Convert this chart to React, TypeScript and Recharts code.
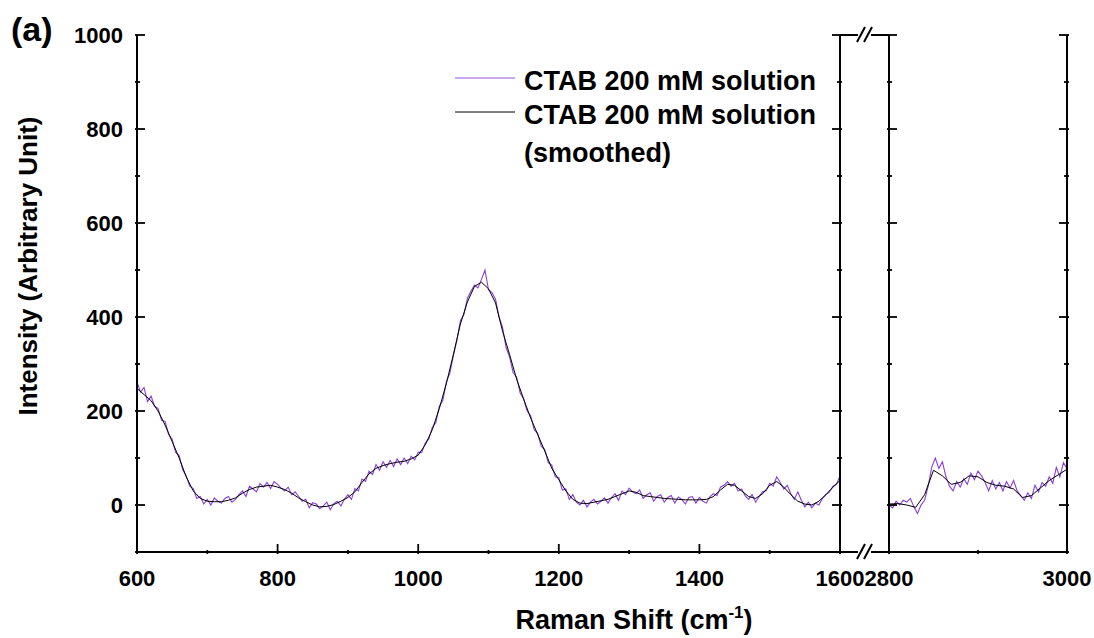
import React from "react";
import { LineChart, Line, XAxis, YAxis } from "recharts";

// Raman spectrum of CTAB 200 mM solution, broken x axis (600-1600 | 2800-3000)
const LEFT_START = 600;
const RAW_STEP_LEFT = 5;
const rawLeft = [
  262, 240, 250, 220, 232, 210, 205, 180, 178, 150, 140, 112, 105, 75, 62, 40, 35, 14, 18, 2,
  12, 0, 15, 8, 4, 14, 18, 6, 12, 22, 30, 18, 40, 34, 28, 46, 38, 48, 35, 50,
  44, 36, 30, 38, 22, 28, 18, 8, 12, -6, 5, 2, -8, -2, 6, -10, 3, 8, -2, 12,
  22, 12, 35, 30, 55, 50, 72, 65, 86, 74, 92, 80, 95, 82, 98, 86, 100, 88, 104, 96,
  112, 112, 132, 140, 165, 175, 210, 222, 262, 280, 318, 350, 392, 405, 440, 455, 468, 462, 480, 500,
  458, 452, 438, 400, 378, 335, 315, 282, 272, 238, 226, 200, 190, 160, 152, 125, 118, 90, 85, 60,
  58, 32, 34, 12, 22, 6, 0, 10, -4, 6, 12, 2, 8, 15, 4, 16, 24, 10, 30, 22,
  36, 28, 24, 32, 14, 22, 26, 8, 18, 22, 6, 16, 20, 4, 17, 12, 2, 16, 18, 4,
  16, 8, 4, 18, 24, 20, 38, 42, 50, 40, 46, 30, 34, 20, 12, 22, 6, 18, 28, 30,
  46, 40, 60, 48, 34, 42, 24, 12, 28, 10, -4, 6, -6, 4, 0, 14, 22, 28, 40, 44,
  62,
];
const SMOOTH_STEP = 10;
const smoothLeft = [
  248, 235, 222, 200, 170, 135, 100, 60, 30, 14,
  8, 7, 7, 10, 15, 25, 33, 38, 40, 42,
  38, 33, 25, 15, 7, 0, -4, -3, 1, 8,
  16, 28, 48, 66, 78, 84, 88, 91, 93, 98,
  106, 128, 160, 205, 258, 320, 385, 432, 465, 474,
  460, 430, 370, 320, 268, 225, 185, 150, 115, 78,
  54, 30, 12, 4, 3, 6, 9, 12, 18, 24,
  30, 27, 20, 18, 16, 14, 13, 12, 11, 11,
  11, 12, 18, 32, 44, 42, 30, 18, 14, 24,
  42, 50, 38, 22, 8, 2, 0, 8, 22, 38,
  52,
];

const RIGHT_START = 2800;
const RAW_STEP_RIGHT = 4;
const rawRight = [
  0, -6, 8, 0, 10, 6, 14, -4, -18, 0,
  10, 40, 80, 100, 78, 92, 60, 40, 30, 50,
  38, 56, 44, 68, 54, 72, 62, 48, 30, 52,
  34, 48, 30, 50, 36, 52, 30, 20, 10, 26,
  14, 42, 28, 48, 40, 60, 46, 80, 60, 90,
  78,
];
const smoothRight = [2, 3, 0, -5, 22, 74, 62, 44, 48, 62, 60, 48, 42, 40, 34, 16, 20, 36, 52, 64, 76];

const yTicks = [-100, 0, 100, 200, 300, 400, 500, 600, 700, 800, 900, 1000];
const yLabels = [0, 200, 400, 600, 800, 1000];
const xTicksLeft = [600, 700, 800, 900, 1000, 1100, 1200, 1300, 1400, 1500, 1600];
const xLabelsLeft = [600, 800, 1000, 1200, 1400, 1600];
const xTicksRight = [2800, 2900, 3000];
const xLabelsRight = [2800, 3000];

const seriesNames = ["CTAB 200 mM solution", "CTAB 200 mM solution"];

const PURPLE = "#8a3ee0";
const FONT = "Arial, 'Liberation Sans', Helvetica, sans-serif";
const TICK_FONT = { fontFamily: FONT, fontWeight: 700, fontSize: 22 };

const toPoints = (vals: number[], start: number, step: number) =>
  vals.map((v, i) => ({ x: start + i * step, y: v }));

function XTick(props: any) {
  const { x, y, payload, side, labels } = props;
  const v = payload.value;
  const major = labels.includes(v);
  const len = major ? 10 : 4;
  const dir = side === "bottom" ? -1 : 1;
  return (
    <g>
      <line x1={x} x2={x} y1={y} y2={y + dir * len} stroke="#000" strokeWidth={1.8} />
      {side === "bottom" && major && (
        <text x={x} y={y + 32} textAnchor="middle" fill="#000" style={TICK_FONT}>
          {v}
        </text>
      )}
    </g>
  );
}

function YTick(props: any) {
  const { x, y, payload, side, showLabel } = props;
  const v = payload.value;
  const major = yLabels.includes(v);
  const len = major ? 10 : 5;
  const dir = side === "left" ? 1 : -1;
  return (
    <g>
      <line x1={x} x2={x + dir * len} y1={y} y2={y} stroke="#000" strokeWidth={1.8} />
      {showLabel && major && (
        <text x={x - 12} y={y + 8} textAnchor="end" fill="#000" style={TICK_FONT}>
          {v}
        </text>
      )}
    </g>
  );
}

const axisLine = { stroke: "#000", strokeWidth: 2 };

function Panel({ width, leftW, rightW, domain, xTicks, xLabels, raw, smooth, showYLabels }: any) {
  return (
    <LineChart width={width} height={638} margin={{ top: 35, right: 0, bottom: 0, left: 0 }}>
      <XAxis
        xAxisId="b"
        type="number"
        dataKey="x"
        orientation="bottom"
        domain={domain}
        allowDataOverflow
        ticks={xTicks}
        interval={0}
        height={86}
        tickSize={0}
        tickLine={false}
        axisLine={axisLine}
        tick={(p: any) => <XTick {...p} side="bottom" labels={xLabels} />}
      />
      <XAxis
        xAxisId="t"
        type="number"
        dataKey="x"
        orientation="top"
        domain={domain}
        allowDataOverflow
        ticks={xTicks}
        interval={0}
        height={0}
        tickSize={0}
        tickLine={false}
        axisLine={axisLine}
        tick={(p: any) => <XTick {...p} side="top" labels={xLabels} />}
      />
      <YAxis
        yAxisId="l"
        type="number"
        orientation="left"
        domain={[-100, 1000]}
        allowDataOverflow
        ticks={yTicks}
        interval={0}
        width={leftW}
        tickSize={0}
        tickLine={false}
        axisLine={axisLine}
        tick={(p: any) => <YTick {...p} side="left" showLabel={showYLabels} />}
      />
      <YAxis
        yAxisId="r"
        type="number"
        orientation="right"
        domain={[-100, 1000]}
        allowDataOverflow
        ticks={yTicks}
        interval={0}
        width={rightW}
        tickSize={0}
        tickLine={false}
        axisLine={axisLine}
        tick={(p: any) => <YTick {...p} side="right" showLabel={false} />}
      />
      <Line
        xAxisId="b"
        yAxisId="l"
        data={raw}
        dataKey="y"
        type="linear"
        stroke={PURPLE}
        strokeWidth={1.1}
        dot={false}
        isAnimationActive={false}
      />
      <Line
        xAxisId="b"
        yAxisId="l"
        data={smooth}
        dataKey="y"
        type="linear"
        stroke="#000"
        strokeWidth={1}
        dot={false}
        isAnimationActive={false}
      />
    </LineChart>
  );
}

export default function App() {
  const rawL = toPoints(rawLeft, LEFT_START, RAW_STEP_LEFT);
  const smL = toPoints(smoothLeft, LEFT_START, SMOOTH_STEP);
  const rawR = toPoints(rawRight, RIGHT_START, RAW_STEP_RIGHT);
  const smR = toPoints(smoothRight, RIGHT_START, SMOOTH_STEP);

  const bold = { fontFamily: FONT, fontWeight: 700 };

  return (
    <div style={{ position: "absolute", left: 0, top: 0, width: 1094, height: 638, background: "#fff" }}>
      <style>{`.recharts-surface{overflow:visible}`}</style>
      <div style={{ position: "absolute", left: 0, top: 0 }}>
        <Panel
          width={880}
          leftW={137}
          rightW={40}
          domain={[600, 1600]}
          xTicks={xTicksLeft}
          xLabels={xLabelsLeft}
          raw={rawL}
          smooth={smL}
          showYLabels
        />
      </div>
      <div style={{ position: "absolute", left: 860, top: 0 }}>
        <Panel
          width={234}
          leftW={29}
          rightW={27}
          domain={[2800, 3000]}
          xTicks={xTicksRight}
          xLabels={xLabelsRight}
          raw={rawR}
          smooth={smR}
          showYLabels={false}
        />
      </div>

      {/* legend, titles, panel label and axis-break marks */}
      <svg width={1094} height={638} style={{ position: "absolute", left: 0, top: 0, pointerEvents: "none" }}>
        <line x1={455} x2={515} y1={78} y2={78} stroke={PURPLE} strokeWidth={1.4} opacity={0.6} />
        <line x1={455} x2={515} y1={112} y2={112} stroke="#000" strokeWidth={1} />
        <text x={524} y={90} style={{ ...bold, fontSize: 27 }}>{seriesNames[0]}</text>
        <text x={524} y={124} style={{ ...bold, fontSize: 27 }}>{seriesNames[1]}</text>
        <text x={524} y={162} style={{ ...bold, fontSize: 27 }}>(smoothed)</text>

        <text x={11} y={41} style={{ ...bold, fontSize: 34 }}>
          (a)
        </text>
        <text transform="translate(37,266) rotate(-90)" textAnchor="middle" style={{ ...bold, fontSize: 26 }}>
          Intensity (Arbitrary Unit)
        </text>
        <text x={634} y={629} textAnchor="middle" style={{ ...bold, fontSize: 27 }}>
          Raman Shift (cm
          <tspan dy={-11} fontSize={17}>-1</tspan>
          <tspan dy={11}>)</tspan>
        </text>
        {[35, 552].map((yy) => (
          <g key={yy} stroke="#000" strokeWidth={2}>
            <line x1={840} x2={858} y1={yy} y2={yy} />
            <line x1={871} x2={889} y1={yy} y2={yy} />
            <line x1={857} x2={865} y1={yy + 7} y2={yy - 8} />
            <line x1={864} x2={872} y1={yy + 7} y2={yy - 8} />
          </g>
        ))}
      </svg>
    </div>
  );
}
